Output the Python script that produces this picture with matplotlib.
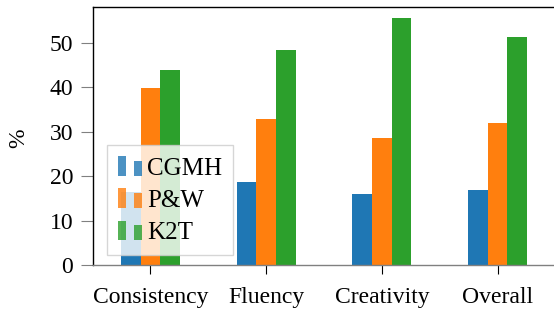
import numpy as np
import matplotlib
matplotlib.use('Agg')
import matplotlib.pyplot as plt
from matplotlib.patches import Rectangle
from matplotlib.legend_handler import HandlerBase

categories = ['Consistency', 'Fluency', 'Creativity', 'Overall']
models = ['CGMH', 'P&W', 'K2T']
cgmh = [16.5, 18.7, 16.0, 16.9]
pw = [39.8, 32.9, 28.6, 32.0]
k2t = [43.9, 48.4, 55.7, 51.4]
colors = ['#1f77b4', '#ff7f0e', '#2ca02c']

plt.rcParams['font.family'] = ['Liberation Serif', 'DejaVu Serif']


class TwoBarHandler(HandlerBase):
    # pgfplots-like ybar legend image: two small bars
    def create_artists(self, legend, orig_handle, xdescent, ydescent,
                       width, height, fontsize, trans):
        c = orig_handle.get_facecolor()
        w = width * 0.34
        r1 = Rectangle((-xdescent, -ydescent), w, height,
                       facecolor=c, edgecolor='none', alpha=0.8, transform=trans)
        r2 = Rectangle((-xdescent + width * 0.7, -ydescent), w * 0.9, height * 0.76,
                       facecolor=c, edgecolor='none', alpha=0.8, transform=trans)
        return [r1, r2]


fig = plt.figure(figsize=(5.54, 3.09), dpi=100)
ax = fig.add_axes([92.5 / 554, 44 / 309, 463 / 554, 258.5 / 309])

x = np.arange(len(categories))
bw = 0.17
bars = []
for i, (vals, name) in enumerate(zip([cgmh, pw, k2t], models)):
    b = ax.bar(x + (i - 1) * bw, vals, bw, color=colors[i], label=name, zorder=2)
    bars.append(b)

ax.set_xlim(-0.5, 3.5)
ax.set_ylim(0, 58.2)
ax.set_xticks(x)
ax.set_xticklabels(categories)
ax.set_yticks([0, 10, 20, 30, 40, 50])
ax.set_ylabel('%', fontsize=17, va='center')
ax.yaxis.set_label_coords((18.5 - 92.5) / 463, 0.49)
ax.tick_params(axis='both', labelsize=17, direction='out')
ax.tick_params(axis='y', color='#808080', length=8.3, pad=5.5)
ax.tick_params(axis='x', color='black', length=6.5, pad=9)
ax.spines['right'].set_visible(False)
ax.spines['bottom'].set_color('#808080')
for s in ax.spines.values():
    s.set_linewidth(1.0)

leg = ax.legend(handles=[b.patches[0] for b in bars], labels=models,
                handler_map={Rectangle: TwoBarHandler()},
                loc='lower left', bbox_to_anchor=(0.031, 0.039),
                fontsize=18, frameon=True, fancybox=False, framealpha=0.8,
                edgecolor='#cccccc', handlelength=0.96, handleheight=0.84,
                handletextpad=0.22, labelspacing=0.35, borderpad=0.43,
                borderaxespad=0)
leg.get_frame().set_linewidth(1.0)
leg.set_zorder(5)

fig.savefig('out.png', dpi=100)
